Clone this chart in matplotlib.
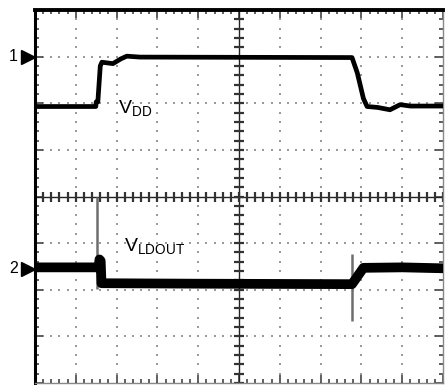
import numpy as np
import matplotlib
matplotlib.use("Agg")
import matplotlib.pyplot as plt
from matplotlib.transforms import blended_transform_factory

# screen is 10 x 8 divisions, y = 0 at the centre line
N_XDIV = 10
N_YDIV = 8

# channel 1: V_DD (divisions)
vdd_t = [0.00, 1.49, 1.50, 1.54, 1.60, 1.64, 1.91, 2.10, 2.25, 2.57,
         7.77, 7.90, 8.05, 8.14, 8.40, 8.70, 8.95, 9.20, 10.00]
vdd_v = [1.93, 1.93, 2.03, 2.03, 2.80, 2.88, 2.85, 2.95, 3.01, 2.99,
         2.98, 2.65, 2.10, 1.93, 1.91, 1.86, 1.97, 1.94, 1.94]

# channel 2: V_LDOUT (divisions)
ldo_t = [0.00, 1.56, 1.58, 1.61, 1.63, 4.00, 7.77, 8.05, 9.00, 10.00]
ldo_v = [-1.52, -1.52, -1.35, -1.38, -1.86, -1.87, -1.88, -1.53, -1.52, -1.54]

# switching glitches (grey persistence lines)
glitch_t = [1.52, 7.77]
glitch_top = [-0.02, -1.23]
glitch_bot = [-1.98, -2.67]

# channel reference markers
ch_labels = ["1", "2"]
ch_levels = [3.0, -1.55]


def draw_screen(ax):
    ax.set_xlim(0, N_XDIV)
    ax.set_ylim(-N_YDIV / 2, N_YDIV / 2)

    minor_x = np.arange(0, N_XDIV + 0.01, 0.2)
    minor_y = np.arange(-N_YDIV / 2, N_YDIV / 2 + 0.01, 0.2)

    # dotted graticule
    for gx in range(1, N_XDIV):
        if gx == N_XDIV // 2:
            continue
        ax.plot(np.full_like(minor_y, gx), minor_y, ls="none", marker="s",
                ms=1.6, mew=0, color="#9a9a9a", zorder=1)
    for gy in range(-N_YDIV // 2 + 1, N_YDIV // 2):
        if gy == 0:
            continue
        ax.plot(minor_x, np.full_like(minor_x, gy), ls="none", marker="s",
                ms=1.6, mew=0, color="#9a9a9a", zorder=1)

    # centre cross with tick marks
    ax.axhline(0, color="#222222", lw=1.0, zorder=2)
    ax.axvline(N_XDIV / 2, color="#222222", lw=1.0, zorder=2)
    ax.plot(minor_x, np.zeros_like(minor_x), ls="none", marker="|", ms=7,
            mew=1.6, color="#333333", zorder=2)
    ax.plot(np.full_like(minor_y, N_XDIV / 2), minor_y, ls="none", marker="_",
            ms=7, mew=1.6, color="#333333", zorder=2)

    # border ticks
    ax.set_xticks(np.arange(0, N_XDIV + 0.01, 1))
    ax.set_yticks(np.arange(-N_YDIV / 2, N_YDIV / 2 + 0.01, 1))
    ax.set_xticks(minor_x, minor=True)
    ax.set_yticks(minor_y, minor=True)
    ax.tick_params(which="both", direction="in", top=True, right=True,
                   labelbottom=False, labelleft=False, color="#444444")
    ax.tick_params(which="major", length=6, width=1.2)
    ax.tick_params(which="minor", length=3, width=1.2)

    ax.spines["left"].set_linewidth(2.2)
    ax.spines["left"].set_color("black")
    ax.spines["top"].set_linewidth(2.8)
    ax.spines["top"].set_color("black")
    ax.spines["right"].set_linewidth(1.0)
    ax.spines["right"].set_color("#888888")
    ax.spines["bottom"].set_linewidth(1.0)
    ax.spines["bottom"].set_color("#888888")


def main():
    plt.rcParams["font.family"] = ["Liberation Sans", "DejaVu Sans"]

    fig = plt.figure(figsize=(4.48, 3.85), dpi=100)
    ax = fig.add_axes([35 / 448, 2 / 385, 408 / 448, 373 / 385])
    draw_screen(ax)

    ax.vlines(glitch_t, glitch_bot, glitch_top, color="#6e6e6e", lw=1.8,
              zorder=3)
    ax.plot(vdd_t, vdd_v, color="black", lw=3.4, solid_joinstyle="round",
            zorder=4)
    ax.plot(ldo_t, ldo_v, color="black", lw=7, solid_joinstyle="round",
            zorder=4)

    ax.text(2.03, 1.90, r"$\mathregular{V_{DD}}$", fontsize=14,
            ha="left", va="center", zorder=5)
    ax.text(2.17, -1.07, r"$\mathregular{V_{LDOUT}}$", fontsize=14,
            ha="left", va="center", zorder=5)

    trans = blended_transform_factory(fig.transFigure, ax.transData)
    for lab, lev in zip(ch_labels, ch_levels):
        ax.text(17.5 / 448, lev, lab, transform=trans, fontsize=11.5,
                ha="right", va="center", clip_on=False)
        ax.plot([27.5 / 448], [lev], transform=trans, marker=">", ms=9.5,
                color="black", clip_on=False)

    fig.savefig("out.png", dpi=100)
    plt.close(fig)


if __name__ == "__main__":
    main()
